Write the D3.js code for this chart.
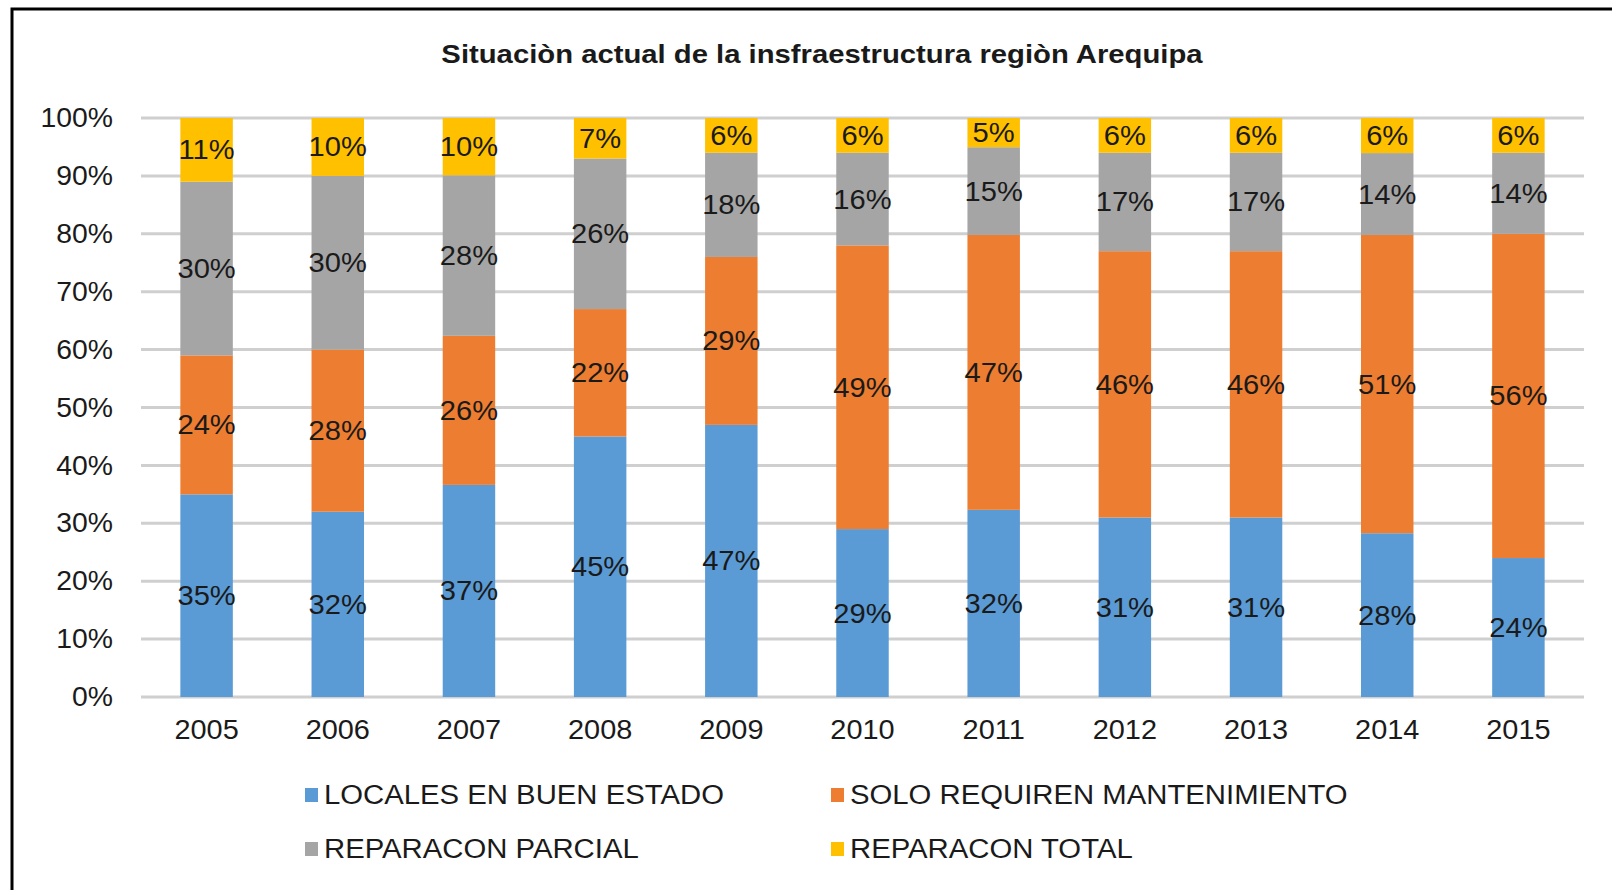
<!DOCTYPE html>
<html>
<head>
<meta charset="utf-8">
<script src="https://cdn.jsdelivr.net/npm/d3@7"></script>
<style>
html,body{margin:0;padding:0;background:#fff;}
svg{display:block;}
text{font-family:"Liberation Sans",Arial,sans-serif;}
</style>
</head>
<body>
<svg id="chart" width="1612" height="890"></svg>
<script>
const title = "Situaciòn actual de la insfraestructura regiòn Arequipa";
const years = ["2005","2006","2007","2008","2009","2010","2011","2012","2013","2014","2015"];
const seriesNames = ["LOCALES EN BUEN ESTADO","SOLO REQUIREN MANTENIMIENTO","REPARACON PARCIAL","REPARACON TOTAL"];
const seriesColors = ["#5B9BD5","#ED7D31","#A5A5A5","#FFC000"];
const buenEstado    = [35,32,37,45,47,29,32,31,31,28,24];
const mantenimiento = [24,28,26,22,29,49,47,46,46,51,56];
const parcial       = [30,30,28,26,18,16,15,17,17,14,14];
const total         = [11,10,10,7,6,6,5,6,6,6,6];
const yTicks = [0,0.1,0.2,0.3,0.4,0.5,0.6,0.7,0.8,0.9,1.0];

const seriesValues = [buenEstado, mantenimiento, parcial, total];
const rows = years.map((y,i)=>{
  const r = {year:y};
  seriesNames.forEach((s,k)=>{ r[s] = seriesValues[k][i]; });
  return r;
});

// horizontally widen text a little (the reference glyphs are slightly stretched)
function stretch(sel, factor){
  sel.each(function(){
    const w = this.getComputedTextLength();
    d3.select(this).attr("textLength", w*factor).attr("lengthAdjust","spacingAndGlyphs");
  });
}

const svg = d3.select("#chart");
svg.append("rect").attr("width",1612).attr("height",890).attr("fill","#fff");

// frame (left and top borders)
svg.append("path").attr("d","M12,890 L12,9 L1612,9").attr("fill","none").attr("stroke","#000").attr("stroke-width",3);

const plot = {left:141, right:1584, top:118, bottom:697};

const x = d3.scaleBand().domain(years).range([plot.left, plot.right]).paddingInner(0.6).paddingOuter(0.3);
const y = d3.scaleLinear().domain([0,1]).range([plot.bottom, plot.top]);

// gridlines
svg.append("g").selectAll("line").data(yTicks).join("line")
  .attr("x1",plot.left).attr("x2",plot.right)
  .attr("y1",d=>y(d)).attr("y2",d=>y(d))
  .attr("stroke","#CFCFCF").attr("stroke-width",3);

// y axis labels
const yAxis = d3.axisLeft(y).tickValues(yTicks).tickFormat(d3.format(".0%")).tickSize(0).tickPadding(0);
const gy = svg.append("g").attr("transform",`translate(${plot.left-28},0)`).call(yAxis);
gy.select(".domain").remove();
gy.selectAll("text").attr("font-size",27).attr("fill","#1a1a1a").attr("font-family","'Liberation Sans',Arial,sans-serif");
stretch(gy.selectAll("text"),1.05);

// x axis labels
const xAxis = d3.axisBottom(x).tickSize(0).tickPadding(0);
const gx = svg.append("g").attr("transform",`translate(0,${plot.bottom+23})`).call(xAxis);
gx.select(".domain").remove();
gx.selectAll("text").attr("font-size",27).attr("fill","#1a1a1a").attr("font-family","'Liberation Sans',Arial,sans-serif");
stretch(gx.selectAll("text"),1.07);

// stacked bars
const stack = d3.stack().keys(seriesNames).offset(d3.stackOffsetExpand);
const layers = stack(rows);

const g = svg.append("g");
layers.forEach((layer,k)=>{
  const lg = g.append("g");
  lg.selectAll("rect").data(layer).join("rect")
    .attr("x",d=>x(d.data.year))
    .attr("width",x.bandwidth())
    .attr("y",d=>y(d[1]))
    .attr("height",d=>y(d[0])-y(d[1]))
    .attr("fill",seriesColors[k]);
});
layers.forEach((layer,k)=>{
  const t = g.append("g").selectAll("text").data(layer).join("text")
    .attr("x",d=>x(d.data.year)+x.bandwidth()/2)
    .attr("y",d=>(y(d[0])+y(d[1]))/2)
    .attr("text-anchor","middle")
    .attr("dominant-baseline","central")
    .attr("font-size",28)
    .attr("fill","#1a1a1a")
    .text(d=>d.data[layer.key]+"%");
  stretch(t,1.04);
});

// title
const tt = svg.append("text").attr("x",822).attr("y",54)
  .attr("text-anchor","middle").attr("dominant-baseline","central")
  .attr("font-size",25).attr("font-weight","bold").attr("fill","#1a1a1a")
  .text(title);
stretch(tt,1.17);

// legend
const legPos = [[305,795],[831,795],[305,849],[831,849]];
const leg = svg.append("g");
seriesNames.forEach((s,k)=>{
  const [lx,ly] = legPos[k];
  leg.append("rect").attr("x",lx).attr("y",ly-7).attr("width",13).attr("height",14).attr("fill",seriesColors[k]);
  const lt = leg.append("text").attr("x",lx+19).attr("y",ly).attr("dominant-baseline","central")
    .attr("font-size",27).attr("fill","#1a1a1a").text(s);
  stretch(lt,1.085);
});
</script>
</body>
</html>
